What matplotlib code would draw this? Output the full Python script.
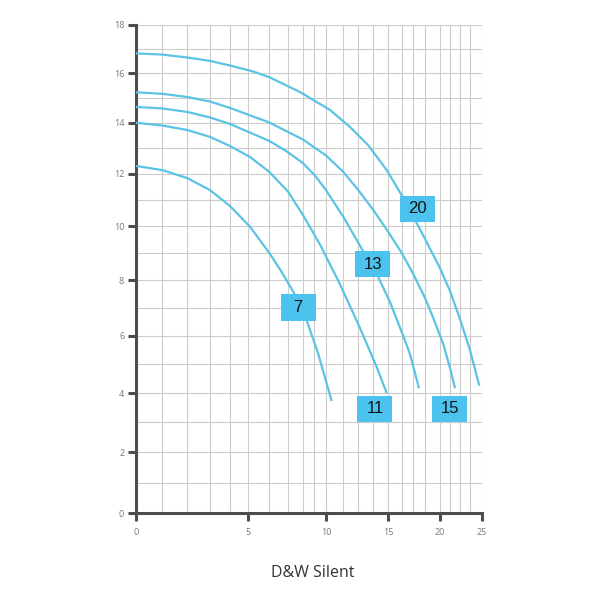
import numpy as np
import matplotlib
matplotlib.use("Agg")
import matplotlib.pyplot as plt
from matplotlib.patches import Rectangle
from matplotlib.transforms import ScaledTranslation

# the flow axis on the sheet is hand drawn: grid values and their offset (px) from the y axis
GRID_X = [0, 1, 2, 3, 4, 5, 6, 7, 8, 9, 10, 11.25, 12.5, 13.75, 15,
          16.25, 17.5, 18.75, 20, 21.25, 22.5, 23.75, 25]
GRID_POS = [0, 26.3, 51.3, 74, 94, 112.3, 133.3, 152.3, 166.7, 178, 190,
            207.3, 222.3, 237.3, 252.3, 265.7, 277.3, 289, 304, 314, 324, 334, 345.7]

# pump curves (flow, head)
q7 = [0, 1, 2, 3, 4, 5.08, 6.04, 6.7, 7.47, 8.29, 9.33, 10.41]
h7 = [12.31, 12.15, 11.84, 11.38, 10.77, 9.99, 8.97, 8.25, 7.47, 6.62, 5.40, 3.73]

q11 = [0, 1, 2, 3, 4, 5.08, 6, 7, 8.05, 9.5, 11.0, 12.64, 14.03, 14.87]
h11 = [14.01, 13.90, 13.72, 13.45, 13.09, 12.66, 12.08, 11.31, 10.41, 9.32, 7.87, 6.28, 4.91, 4.0]

q13 = [0, 1, 2, 3, 4, 6, 6.88, 8, 9.08, 10, 11.25, 12.37, 12.92, 14.17, 15.16, 16.42,
       17.14, 18.11]
h13 = [14.64, 14.58, 14.44, 14.22, 13.96, 13.29, 12.90, 12.43, 11.94, 11.38, 10.36, 9.49,
       9.06, 8.11, 7.21, 6.0, 5.36, 4.17]

q15 = [0, 1, 2, 3, 4, 6, 8, 10, 11.25, 12.5, 13.75, 15, 16.25, 17.5, 18.75, 19.44, 20.41,
       21.25, 21.88]
h15 = [15.23, 15.17, 15.04, 14.86, 14.60, 14.02, 13.35, 12.72, 12.08, 11.38, 10.62, 9.79,
       9.01, 8.23, 7.36, 6.64, 5.71, 4.87, 4.17]

q20 = [0, 1, 2, 3, 4, 5.22, 6.04, 7.81, 10.29, 11.81, 13.31, 14.87, 16.18, 18.03, 20, 21.25,
       22.5, 23.75, 24.74]
h20 = [16.82, 16.77, 16.65, 16.51, 16.32, 16.08, 15.83, 15.24, 14.52, 13.84, 13.13, 12.15,
       11.23, 10.02, 8.45, 7.61, 6.60, 5.50, 4.26]

labels = ['7', '11', '13', '15', '20']
label_q = [7.69, 13.89, 13.72, 21.19, 17.95]
label_h = [7.02, 3.46, 8.60, 3.46, 10.66]

x_major = [0, 5, 10, 15, 20, 25]
y_major = list(range(0, 19, 2))
y_minor = list(range(1, 18, 2))

LINE = '#5bc3e4'
BOX = '#4cc3ee'
AXIS = '#4d4d4d'


def fwd_x(x):
    return np.interp(x, GRID_X, GRID_POS)


def inv_x(p):
    return np.interp(p, GRID_POS, GRID_X)


fig = plt.figure(figsize=(6, 6), dpi=100)
ax = fig.add_axes([136 / 600, 1 - 513.3 / 600, 345.7 / 600, 488.3 / 600])

ax.set_xscale('function', functions=(fwd_x, inv_x))
ax.set_yscale('function', functions=(lambda y: np.log1p(np.asarray(y) / 60.0),
                                     lambda v: 60.0 * np.expm1(np.asarray(v))))
ax.set_xlim(0, 25)
ax.set_ylim(0, 18)

for q, h in [(q7, h7), (q11, h11), (q13, h13), (q15, h15), (q20, h20)]:
    ax.plot(q, h, color=LINE, lw=1.6, solid_capstyle='butt', solid_joinstyle='round',
            zorder=3)

# equal sized label boxes, centred on the data point
for s, q, h in zip(labels, label_q, label_h):
    tr = fig.dpi_scale_trans + ScaledTranslation(q, h, ax.transData)
    ax.add_patch(Rectangle((-0.175, -0.1325), 0.35, 0.265, transform=tr,
                           facecolor=BOX, edgecolor='none', zorder=4, clip_on=False))
    ax.text(q, h, s, ha='center', va='center', fontsize=12, color='#141414',
            family='Liberation Sans', zorder=5)

ax.set_xticks(x_major)
ax.set_xticks([v for v in GRID_X if v not in x_major], minor=True)
ax.set_yticks(y_major)
ax.set_yticks(y_minor, minor=True)
ax.set_xticklabels([str(v) for v in x_major])
ax.set_yticklabels([str(v) for v in y_major])

ax.set_axisbelow(True)
ax.grid(which='both', color='#cccccc', lw=0.8)
ax.tick_params(which='minor', length=0)
ax.tick_params(which='major', length=5.5, width=2.2, color=AXIS, labelsize=6.5,
               labelcolor='#777777')
ax.tick_params(axis='x', pad=5)
ax.tick_params(axis='y', pad=3)
for lab in ax.get_xticklabels() + ax.get_yticklabels():
    lab.set_family('Open Sans')

for side in ['top', 'right']:
    ax.spines[side].set_visible(False)
for side in ['left', 'bottom']:
    ax.spines[side].set_linewidth(2.2)
    ax.spines[side].set_color(AXIS)

fig.text(312.5 / 600, 1 - 573 / 600, 'D&W Silent', ha='center', va='center',
         fontsize=11.5, color='#333333', family='Open Sans')

fig.savefig('out.png', dpi=100)
